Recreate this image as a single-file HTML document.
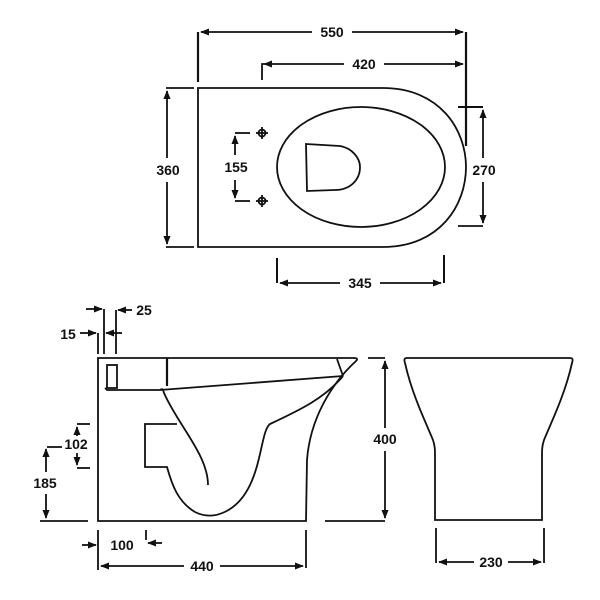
<!DOCTYPE html>
<html><head><meta charset="utf-8"><style>
html,body{margin:0;padding:0;background:#fff}
svg{display:block}
text{font-family:"Liberation Sans",sans-serif;font-weight:bold;font-size:14px;fill:#111}
</style></head><body>
<svg width="600" height="600" viewBox="0 0 600 600" xmlns="http://www.w3.org/2000/svg">
<defs>
<marker id="a" viewBox="0 0 10 10" refX="9" refY="5" markerWidth="5" markerHeight="5" orient="auto-start-reverse"><path d="M0,1 L10,5 L0,9 Z" fill="#111"/></marker>
</defs>
<g fill="none" stroke="#111" stroke-width="1.8">
<!-- TOP VIEW -->
<path d="M198,88 L383,88 C440,88 466,130 466,167 C466,205 440,247 383,247 L198,247 Z"/>
<ellipse cx="361" cy="167" rx="84" ry="60"/>
<path d="M306,144 L340,146 C352,148 360,158 360,167 C360,180 350,190 335,190 L307,191 Z"/>
<!-- 550 -->
<line x1="198" y1="32" x2="198" y2="82" stroke-width="2.2"/>
<line x1="466" y1="32" x2="466" y2="146" stroke-width="2.2"/>
<line x1="201" y1="32" x2="312" y2="32" marker-start="url(#a)"/>
<line x1="352" y1="32" x2="463" y2="32" marker-end="url(#a)"/>
<!-- 420 -->
<polyline points="262,80 262,64 264,64"/>
<line x1="264" y1="64" x2="344" y2="64" marker-start="url(#a)"/>
<line x1="384" y1="64" x2="463" y2="64" marker-end="url(#a)"/>
<!-- 360 -->
<line x1="166" y1="88" x2="194" y2="88"/>
<line x1="166" y1="247" x2="194" y2="247"/>
<line x1="167" y1="91" x2="167" y2="158" marker-start="url(#a)"/>
<line x1="167" y1="182" x2="167" y2="244" marker-end="url(#a)"/>
<!-- 270 -->
<line x1="458" y1="107" x2="483" y2="107" stroke-width="2"/>
<line x1="458" y1="226" x2="483" y2="226"/>
<line x1="483" y1="110" x2="483" y2="158" marker-start="url(#a)"/>
<line x1="483" y1="182" x2="483" y2="223" marker-end="url(#a)"/>
<!-- 155 -->
<line x1="235" y1="133" x2="250" y2="133"/>
<line x1="235" y1="201" x2="250" y2="201"/>
<line x1="235" y1="136" x2="235" y2="155" marker-start="url(#a)"/>
<line x1="235" y1="180" x2="235" y2="198" marker-end="url(#a)"/>
<circle cx="262" cy="133" r="3.5"/><line x1="256" y1="133" x2="268" y2="133"/><line x1="262" y1="127" x2="262" y2="139"/>
<circle cx="262" cy="201" r="3.5"/><line x1="256" y1="201" x2="268" y2="201"/><line x1="262" y1="195" x2="262" y2="207"/>
<!-- 345 -->
<line x1="277" y1="258" x2="277" y2="283" stroke-width="2"/>
<line x1="444" y1="255" x2="444" y2="283" stroke-width="2"/>
<line x1="280" y1="283" x2="340" y2="283" marker-start="url(#a)"/>
<line x1="380" y1="283" x2="441" y2="283" marker-end="url(#a)"/>

<!-- SIDE VIEW -->
<path d="M98,358 L98,521 L306,521 L307,460 C310,420 330,385 356,361 C358,359 357,358 354,358 Z"/>
<rect x="107" y="365" width="10" height="23"/>
<polyline points="105,388 107,390 160,390" />
<line x1="167" y1="358" x2="167" y2="386" stroke-width="2.2"/>
<path d="M160,390 L343,376"/>
<path d="M337,359 L343,376"/>
<path d="M160,390 C163,388 163,390 164,393 C178,425 208,455 208,485"/>
<path d="M343,376 C325,398 300,410 270,424 C262,430 262,460 250,485 C238,510 215,522 195,512 C178,502 172,485 167,467 L145,467 L145,424 L177,424"/>
<!-- 15 / 25 -->
<line x1="98" y1="333" x2="98" y2="354"/>
<line x1="104" y1="309" x2="104" y2="354"/>
<line x1="116" y1="310" x2="116" y2="354"/>
<line x1="86" y1="309" x2="102" y2="309" marker-end="url(#a)"/>
<line x1="132" y1="310" x2="118" y2="310" marker-end="url(#a)"/>
<line x1="80" y1="333" x2="96" y2="333" marker-end="url(#a)"/>
<line x1="122" y1="333" x2="106" y2="333" marker-end="url(#a)"/>
<!-- 102 -->
<line x1="77" y1="424" x2="90" y2="424"/>
<line x1="77" y1="468" x2="90" y2="468"/>
<line x1="77" y1="427" x2="77" y2="436" marker-start="url(#a)"/>
<line x1="77" y1="453" x2="77" y2="465" marker-end="url(#a)"/>
<!-- 185 -->
<polyline points="62,447 47,447"/>
<line x1="46" y1="449" x2="46" y2="472" marker-start="url(#a)"/>
<line x1="46" y1="494" x2="46" y2="518" marker-end="url(#a)"/>
<line x1="40" y1="521" x2="88" y2="521"/>
<!-- 400 -->
<line x1="368" y1="358" x2="385" y2="358"/>
<line x1="325" y1="521" x2="385" y2="521"/>
<line x1="385" y1="361" x2="385" y2="428" marker-start="url(#a)"/>
<line x1="385" y1="451" x2="385" y2="518" marker-end="url(#a)"/>
<!-- 100 -->
<line x1="98" y1="530" x2="98" y2="570"/>
<line x1="146" y1="530" x2="146" y2="540"/>
<line x1="82" y1="545" x2="96" y2="545" marker-end="url(#a)"/>
<line x1="162" y1="543" x2="148" y2="543" marker-end="url(#a)"/>
<!-- 440 -->
<line x1="306" y1="530" x2="306" y2="568"/>
<line x1="101" y1="566" x2="184" y2="566" marker-start="url(#a)"/>
<line x1="220" y1="566" x2="303" y2="566" marker-end="url(#a)"/>

<!-- FRONT VIEW -->
<path d="M407,358 L570,358 C573,358 573,360 572,363 C565,395 550,425 544,440 C542,446 542,450 542,456 L542,520 L435,520 L435,456 C435,450 435,446 433,440 C427,425 412,395 405,363 C404,360 404,358 407,358 Z"/>
<!-- 230 -->
<line x1="436" y1="528" x2="436" y2="563"/>
<line x1="544" y1="528" x2="544" y2="563"/>
<line x1="439" y1="562" x2="474" y2="562" marker-start="url(#a)"/>
<line x1="508" y1="562" x2="541" y2="562" marker-end="url(#a)"/>
</g>
<g text-anchor="middle">
<text x="332" y="37">550</text>
<text x="364" y="69">420</text>
<text x="168" y="175">360</text>
<text x="484" y="175">270</text>
<text x="236" y="172">155</text>
<text x="360" y="288">345</text>
<text x="144" y="315">25</text>
<text x="68" y="339">15</text>
<text x="76" y="449">102</text>
<text x="45" y="488">185</text>
<text x="385" y="444">400</text>
<text x="122" y="550">100</text>
<text x="202" y="571">440</text>
<text x="491" y="567">230</text>
</g>
</svg>
</body></html>
